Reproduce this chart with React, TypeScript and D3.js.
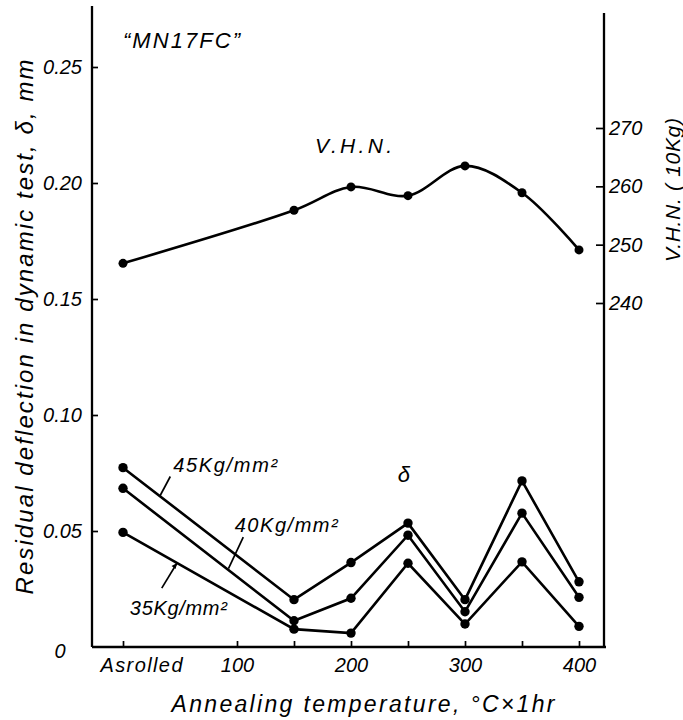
import React, { useEffect, useRef } from 'react';
import * as d3 from 'd3';

// Annealing temperatures (°C x 1hr); 0 stands for the "As rolled" state
const temps = [0, 150, 200, 250, 300, 350, 400];

// Residual deflection (mm) for the three test stresses
const defl45 = [0.0773, 0.0204, 0.0364, 0.0534, 0.0204, 0.0716, 0.0281];
const defl40 = [0.0684, 0.0113, 0.021, 0.0482, 0.0152, 0.0577, 0.0214];
const defl35 = [0.0494, 0.0077, 0.006, 0.0361, 0.0099, 0.0367, 0.0089];

// Vickers hardness, right axis
const vhn = [246.8, 255.9, 259.9, 258.4, 263.5, 258.9, 249.1];

// axis ticks
const xTicks = [0, 100, 150, 200, 250, 300, 350, 400];
const xTickLabels = ['Asrolled', '100', '', '200', '', '300', '', '400'];
const leftTicks = [0.05, 0.1, 0.15, 0.2, 0.25];
const leftTickLabels = ['0.05', '0.10', '0.15', '0.20', '0.25'];
const rightTicks = [240, 250, 260, 270];

const seriesNames = ['45Kg/mm²', '40Kg/mm²', '35Kg/mm²'];

const FONT = '"Liberation Sans", Arial, sans-serif';

const App = () => {
  const svgRef = useRef<SVGSVGElement>(null);

  useEffect(() => {
    const svg = d3.select(svgRef.current);
    svg.selectAll('*').remove();

    // frame of the plot
    const left = 92;
    const right = 604;
    const bottom = 647;
    const top = 6;

    const x = d3.scaleLinear().domain([0, 400]).range([123, 579]);
    const y = d3.scaleLinear().domain([0, 0.25]).range([bottom, 67]);
    const yR = d3.scaleLinear().domain([240, 270]).range([303, 128]);

    const txt = (s: string, px: number, py: number, size: number, anchor = 'start', len?: number) => {
      const t = svg
        .append('text')
        .attr('x', px)
        .attr('y', py)
        .attr('text-anchor', anchor)
        .style('font-family', FONT)
        .style('font-style', 'italic')
        .style('font-size', `${size}px`)
        .style('fill', '#000')
        .text(s);
      if (len) t.attr('textLength', len).attr('lengthAdjust', 'spacing');
      return t;
    };

    // spines
    const frame = svg.append('g').attr('stroke', '#000').attr('stroke-width', 2.3).attr('fill', 'none');
    frame.append('line').attr('x1', left).attr('x2', left).attr('y1', top).attr('y2', bottom);
    frame.append('line').attr('x1', left).attr('x2', right + 2).attr('y1', bottom).attr('y2', bottom);
    frame.append('line').attr('x1', right).attr('x2', right).attr('y1', 13).attr('y2', bottom);

    const styleAxis = (g: any, size: number) => {
      g.select('.domain').remove();
      g.selectAll('line').attr('stroke', '#000').attr('stroke-width', 1.7);
      g.selectAll('text')
        .style('font-family', FONT)
        .style('font-style', 'italic')
        .style('font-size', `${size}px`)
        .attr('fill', '#000');
    };

    // bottom axis, ticks pointing inward
    svg
      .append('g')
      .attr('transform', `translate(0,${bottom})`)
      .call(
        d3
          .axisBottom(x)
          .tickValues(xTicks)
          .tickSize(-6)
          .tickPadding(11)
          .tickFormat((d, i) => xTickLabels[i])
      )
      .call((g) => styleAxis(g, 20))
      .selectAll('text')
      .attr('dx', (d: any) => (d === 0 ? 18 : 0))
      .attr('textLength', (d: any) => (d === 0 ? 82 : null))
      .attr('lengthAdjust', 'spacing');

    // left axis
    svg
      .append('g')
      .attr('transform', `translate(${left},0)`)
      .call(
        d3
          .axisLeft(y)
          .tickValues(leftTicks)
          .tickSize(-6)
          .tickPadding(10)
          .tickFormat((d, i) => leftTickLabels[i])
      )
      .call((g) => styleAxis(g, 20));
    txt('0', 60, y(0) + 11, 20, 'middle');

    // right axis
    svg
      .append('g')
      .attr('transform', `translate(${right},0)`)
      .call(d3.axisRight(yR).tickValues(rightTicks).tickSize(-8).tickPadding(5).tickFormat(d3.format('d')))
      .call((g) => styleAxis(g, 20));

    // deflection series
    const deflLine = d3
      .line<number>()
      .x((d, i) => x(temps[i]))
      .y((d) => y(d));

    [defl45, defl40, defl35].forEach((s) => {
      svg
        .append('path')
        .datum(s)
        .attr('d', deflLine)
        .attr('fill', 'none')
        .attr('stroke', '#000')
        .attr('stroke-width', 2.6);
      svg
        .append('g')
        .selectAll('circle')
        .data(s)
        .enter()
        .append('circle')
        .attr('cx', (d, i) => x(temps[i]))
        .attr('cy', (d) => y(d))
        .attr('r', 4.7)
        .attr('fill', '#000');
    });

    // hardness curve
    const vhnLine = d3
      .line<number>()
      .x((d, i) => x(temps[i]))
      .y((d) => yR(d))
      .curve(d3.curveCatmullRom.alpha(0.5));
    svg
      .append('path')
      .datum(vhn)
      .attr('d', vhnLine)
      .attr('fill', 'none')
      .attr('stroke', '#000')
      .attr('stroke-width', 2.6);
    svg
      .append('g')
      .selectAll('circle')
      .data(vhn)
      .enter()
      .append('circle')
      .attr('cx', (d, i) => x(temps[i]))
      .attr('cy', (d) => yR(d))
      .attr('r', 4.5)
      .attr('fill', '#000');

    // series labels with leader lines
    const leader = (a: [number, number], b: [number, number]) =>
      svg
        .append('line')
        .attr('x1', x(a[0]))
        .attr('y1', y(a[1]))
        .attr('x2', x(b[0]))
        .attr('y2', y(b[1]))
        .attr('stroke', '#000')
        .attr('stroke-width', 1.7);

    txt(seriesNames[0], x(44), y(0.0754), 20, 'start', 104);
    leader([41.5, 0.0735], [32.5, 0.0652]);
    txt(seriesNames[1], x(98), y(0.0496), 20, 'start', 103);
    leader([105.5, 0.0474], [92.5, 0.0338]);
    txt(seriesNames[2], x(6), y(0.0138), 20, 'start', 97);
    leader([34, 0.0254], [47.4, 0.0362]);
    svg
      .append('path')
      .attr('d', () => {
        const px = x(47.4);
        const py = y(0.0362);
        return `M${px},${py} L${px - 5.5},${py + 3} L${px - 1.5},${py + 6} Z`;
      })
      .attr('fill', '#000');

    txt('δ', x(241), y(0.0711), 22);
    txt('V.H.N.', x(168.5), yR(265.7), 21, 'start', 77);
    txt('“MN17FC”', x(0), y(0.258), 22, 'start', 117);

    // axis titles
    txt('Residual deflection in dynamic test, δ, mm', 0, 0, 24, 'middle', 535).attr(
      'transform',
      'translate(33,327) rotate(-90)'
    );
    txt('V.H.N. ( 10Kg)', 0, 0, 21, 'middle', 144).attr('transform', 'translate(680,190) rotate(-90)');
    txt('Annealing temperature, °C×1hr', 363, 712, 23, 'middle', 383);
  }, []);

  return (
    <svg
      ref={svgRef}
      width={683}
      height={720}
      style={{ position: 'absolute', left: 0, top: 0, background: '#fff' }}
    ></svg>
  );
};

export default App;
